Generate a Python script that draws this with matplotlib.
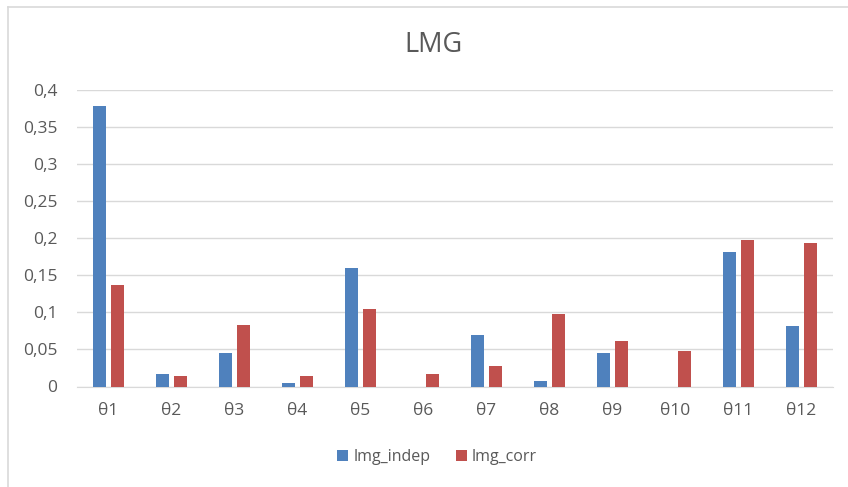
import numpy as np
import matplotlib.pyplot as plt
from matplotlib.lines import Line2D
from matplotlib.ticker import FuncFormatter

categories = ['θ1', 'θ2', 'θ3', 'θ4', 'θ5', 'θ6', 'θ7', 'θ8', 'θ9', 'θ10', 'θ11', 'θ12']
lmg_indep = [0.379, 0.017, 0.045, 0.005, 0.160, 0.0, 0.069, 0.008, 0.045, 0.0, 0.182, 0.082]
lmg_corr = [0.137, 0.014, 0.083, 0.014, 0.104, 0.017, 0.027, 0.098, 0.062, 0.0485, 0.198, 0.194]

plt.rcParams['font.family'] = ['Open Sans', 'DejaVu Sans']
grey_text = '#595959'
blue = '#4f81bd'
red = '#c0504d'

W, H = 848, 487
fig = plt.figure(figsize=(W / 100, H / 100), dpi=100)
ax = fig.add_axes([77 / W, 1 - 386.5 / H, (833 - 77) / W, (386.5 - 90) / H])

x = np.arange(len(categories))
width = 0.214
offset = 0.146
ax.bar(x - offset, lmg_indep, width, color=blue, label='lmg_indep', zorder=3)
ax.bar(x + offset, lmg_corr, width, color=red, label='lmg_corr', zorder=3)

ax.set_xlim(-0.5, len(categories) - 0.5)
ax.set_ylim(0, 0.4)
ax.set_yticks(np.arange(0, 0.401, 0.05))
ax.yaxis.set_major_formatter(FuncFormatter(lambda v, p: ('%g' % round(v, 2)).replace('.', ',')))
ax.set_xticks(x)
ax.set_xticklabels(categories)

ax.grid(axis='y', color='#d9d9d9', linewidth=1, zorder=0)
for s in ['top', 'right', 'left']:
    ax.spines[s].set_visible(False)
ax.spines['bottom'].set_color('#d9d9d9')
ax.tick_params(axis='both', length=0, colors=grey_text, labelsize=12.5)
ax.tick_params(axis='y', pad=14)
ax.tick_params(axis='x', pad=12)

fig.text(433 / W, 1 - 45 / H, 'LMG', ha='center', va='center', fontsize=19.5, color=grey_text)

leg = fig.legend(loc='center', bbox_to_anchor=(437 / W, 1 - 457 / H), ncol=2, frameon=False,
                 fontsize=11.5, handlelength=0.7, handleheight=0.7, handletextpad=0.3,
                 columnspacing=1.6, labelcolor=grey_text)

# chart border (light grey)
fig.add_artist(Line2D([8 / W, 1], [1 - 7 / H, 1 - 7 / H], transform=fig.transFigure, color='#d9d9d9', lw=1.2))
fig.add_artist(Line2D([8 / W, 8 / W], [0, 1 - 7 / H], transform=fig.transFigure, color='#d9d9d9', lw=1.2))

fig.savefig('out.png', dpi=100)
